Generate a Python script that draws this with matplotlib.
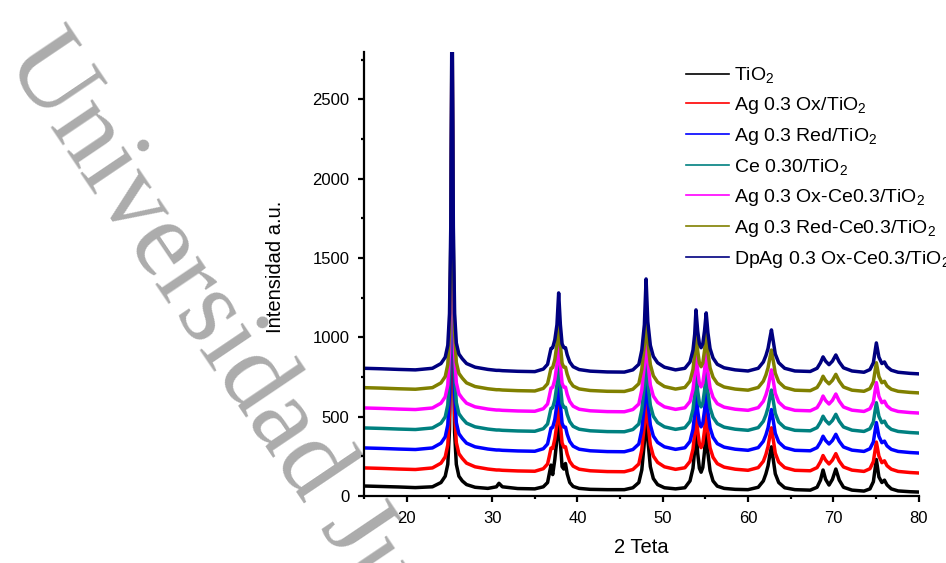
import matplotlib
matplotlib.use("Agg")
import matplotlib.pyplot as plt
from matplotlib.ticker import MultipleLocator

plt.rcParams["font.family"] = ["Liberation Sans", "DejaVu Sans"]
plt.rcParams["mathtext.fontset"] = "custom"
plt.rcParams["mathtext.rm"] = "Liberation Sans"
plt.rcParams["mathtext.it"] = "Liberation Sans:italic"
plt.rcParams["mathtext.bf"] = "Liberation Sans:bold"

# 2-theta sampling positions (degrees)
two_theta = [
    15.0, 17.0, 19.0, 21.0, 23.0, 24.0, 24.5, 24.8, 25.0, 25.15,
    25.3, 25.45, 25.6, 25.8, 26.1, 26.5, 27.0, 28.0, 29.5, 30.5,
    30.8, 31.2, 33.0, 35.0, 36.0, 36.5, 36.7, 36.9, 37.1, 37.35,
    37.6, 37.8, 38.0, 38.2, 38.4, 38.6, 38.8, 39.1, 39.5, 40.2,
    41.5, 43.5, 45.5, 46.5, 47.2, 47.55, 47.85, 48.05, 48.25, 48.55,
    48.9, 49.4, 50.2, 51.5, 52.6, 53.2, 53.55, 53.75, 53.9, 54.1,
    54.3, 54.5, 54.7, 54.9, 55.1, 55.3, 55.55, 55.9, 56.4, 57.2,
    58.5, 60.0, 61.2, 61.8, 62.1, 62.35, 62.55, 62.75, 62.95, 63.2,
    63.6, 64.3, 65.5, 67.3, 68.1, 68.5, 68.8, 69.1, 69.5, 69.9,
    70.3, 70.7, 71.2, 72.2, 73.6, 74.3, 74.7, 75.05, 75.35, 75.7,
    76.0, 76.3, 76.8, 77.6, 79.0, 80.0,
]

# Intensity (a.u., stacked) for each sample
tio2 = [
    63, 60, 57, 53, 58, 85, 125, 200, 420, 1000,
    2650, 1000, 400, 200, 125, 95, 72, 55, 48, 58,
    80, 58, 47, 45, 58, 85, 140, 195, 135, 230,
    360, 570, 340, 185, 170, 205, 140, 85, 60, 48,
    42, 40, 40, 52, 85, 165, 340, 620, 360, 185,
    110, 72, 52, 45, 52, 95, 175, 290, 440, 270,
    175, 150, 180, 280, 420, 270, 160, 95, 62, 48,
    42, 40, 55, 95, 140, 190, 255, 310, 235, 140,
    85, 52, 40, 37, 55, 100, 164, 105, 69, 105,
    170, 100, 55, 37, 31, 45, 90, 230, 120, 85,
    100, 70, 45, 32, 27, 25,
]
ag_ox = [
    177, 174, 170, 167, 177, 207, 247, 322, 522, 1072,
    2700, 1072, 522, 337, 267, 237, 207, 184, 170, 164,
    164, 162, 158, 156, 172, 202, 250, 302, 300, 360,
    455, 650, 455, 335, 308, 310, 264, 218, 188, 169,
    159, 154, 153, 167, 202, 292, 452, 735, 472, 322,
    252, 212, 184, 168, 178, 218, 295, 395, 545, 412,
    330, 305, 330, 412, 530, 404, 304, 244, 204, 182,
    169, 162, 179, 219, 262, 312, 375, 430, 360, 270,
    214, 179, 162, 159, 179, 216, 255, 226, 202, 226,
    267, 220, 183, 163, 155, 172, 217, 340, 252, 210,
    222, 191, 169, 155, 148, 145,
]
ag_red = [
    303, 300, 296, 293, 303, 333, 373, 448, 648, 1198,
    2800, 1198, 648, 463, 393, 363, 333, 310, 296, 290,
    290, 288, 284, 282, 298, 328, 377, 428, 433, 483,
    578, 775, 578, 460, 434, 434, 389, 344, 314, 295,
    285, 280, 279, 293, 328, 418, 576, 860, 598, 448,
    378, 338, 310, 294, 304, 344, 420, 518, 665, 538,
    459, 436, 459, 538, 655, 530, 430, 370, 330, 308,
    295, 288, 305, 345, 385, 430, 490, 545, 480, 395,
    340, 305, 288, 285, 305, 340, 377, 350, 328, 350,
    389, 345, 309, 289, 281, 298, 341, 463, 376, 336,
    346, 316, 294, 281, 274, 271,
]
ce = [
    429, 426, 422, 419, 429, 459, 499, 574, 774, 1324,
    2900, 1324, 774, 589, 519, 489, 459, 436, 422, 416,
    416, 414, 410, 408, 424, 454, 502, 552, 557, 607,
    700, 890, 700, 585, 559, 559, 514, 469, 439, 421,
    411, 406, 405, 419, 454, 544, 700, 975, 720, 572,
    503, 463, 436, 420, 430, 470, 545, 642, 785, 662,
    585, 562, 585, 662, 775, 655, 556, 496, 456, 434,
    421, 414, 431, 471, 511, 556, 615, 668, 605, 521,
    466, 431, 414, 411, 431, 466, 503, 476, 454, 476,
    515, 471, 435, 415, 407, 424, 467, 588, 502, 462,
    472, 442, 420, 407, 400, 397,
]
ag_ox_ce = [
    555, 552, 548, 545, 555, 585, 625, 700, 900, 1450,
    3000, 1450, 900, 715, 645, 615, 585, 562, 548, 542,
    542, 540, 536, 534, 550, 580, 628, 680, 685, 735,
    830, 1020, 830, 712, 686, 686, 641, 596, 566, 547,
    537, 532, 531, 545, 580, 670, 830, 1110, 850, 700,
    630, 590, 562, 546, 556, 596, 671, 770, 915, 790,
    711, 688, 711, 790, 905, 782, 682, 622, 582, 560,
    547, 540, 557, 597, 637, 682, 742, 795, 732, 647,
    592, 557, 540, 537, 557, 592, 630, 602, 580, 603,
    643, 598, 561, 541, 533, 550, 593, 715, 628, 588,
    598, 568, 546, 533, 526, 523,
]
ag_red_ce = [
    683, 680, 676, 673, 683, 713, 753, 828, 1028, 1578,
    3100, 1578, 1028, 843, 773, 743, 713, 690, 676, 670,
    670, 668, 664, 662, 678, 708, 755, 805, 810, 860,
    955, 1150, 955, 838, 812, 812, 768, 723, 693, 675,
    665, 660, 659, 673, 708, 798, 955, 1235, 975, 828,
    758, 718, 690, 674, 684, 724, 798, 895, 1045, 915,
    838, 815, 838, 915, 1030, 905, 808, 749, 709, 687,
    674, 667, 684, 724, 763, 808, 866, 920, 856, 774,
    719, 684, 667, 664, 684, 718, 755, 728, 707, 729,
    767, 724, 687, 667, 660, 677, 720, 840, 753, 714,
    723, 694, 673, 660, 653, 650,
]
dpag_ox_ce = [
    805, 802, 798, 795, 805, 835, 875, 950, 1150, 1700,
    3200, 1700, 1150, 965, 895, 865, 835, 812, 798, 792,
    792, 790, 786, 784, 800, 830, 880, 930, 935, 985,
    1080, 1280, 1080, 960, 935, 935, 890, 845, 815, 797,
    787, 782, 781, 795, 830, 920, 1080, 1368, 1100, 950,
    880, 840, 812, 795, 805, 845, 920, 1020, 1173, 1040,
    960, 935, 960, 1040, 1154, 1030, 930, 870, 830, 808,
    795, 788, 805, 845, 885, 930, 990, 1047, 980, 895,
    840, 805, 788, 785, 805, 840, 877, 850, 828, 850,
    889, 845, 808, 788, 780, 797, 840, 965, 875, 835,
    845, 815, 793, 780, 773, 770,
]

series = [tio2, ag_ox, ag_red, ce, ag_ox_ce, ag_red_ce, dpag_ox_ce]
labels = [
    "TiO$_2$",
    "Ag 0.3 Ox/TiO$_2$",
    "Ag 0.3 Red/TiO$_2$",
    "Ce 0.30/TiO$_2$",
    "Ag 0.3 Ox-Ce0.3/TiO$_2$",
    "Ag 0.3 Red-Ce0.3/TiO$_2$",
    "DpAg 0.3 Ox-Ce0.3/TiO$_2$",
]
colors = ["#000000", "#ff0000", "#0000ff", "#008080", "#ff00ff", "#808000", "#000080"]

fig = plt.figure(figsize=(9.46, 5.63), dpi=100)
ax = fig.add_axes([0.385, 0.119, 0.586, 0.789])

for y, lab, c in zip(series, labels, colors):
    ax.plot(two_theta, y, color=c, lw=2.5, label=lab, solid_joinstyle="round")

ax.set_xlim(15, 80)
ax.set_ylim(0, 2800)
ax.xaxis.set_major_locator(MultipleLocator(10))
ax.xaxis.set_minor_locator(MultipleLocator(5))
ax.yaxis.set_major_locator(MultipleLocator(500))
ax.yaxis.set_minor_locator(MultipleLocator(250))

for side in ("top", "right"):
    ax.spines[side].set_visible(False)
for side in ("left", "bottom"):
    ax.spines[side].set_linewidth(1.6)

ax.tick_params(which="major", direction="out", length=4.5, width=1.6,
               labelsize=12, pad=6)
ax.tick_params(which="minor", direction="out", length=2.5, width=1.6)

ax.set_xlabel("2 Teta", fontsize=14.5)
ax.set_ylabel("Intensidad a.u.", fontsize=14.5)
ax.xaxis.set_label_coords(0.5, -0.095)
ax.yaxis.set_label_coords(-0.142, 0.515)

leg = ax.legend(loc="upper left", bbox_to_anchor=(0.725, 0.884),
                bbox_transform=fig.transFigure, frameon=False, fontsize=14,
                handlelength=2.2, handletextpad=0.3, labelspacing=0.51,
                borderpad=0, borderaxespad=0)
for line in leg.get_lines():
    line.set_linewidth(1.2)

# Repository watermark
fig.text(0.004, 0.895, "Universidad Juárez", rotation=-56,
         rotation_mode="anchor", ha="left", va="baseline",
         fontsize=79, family="Liberation Serif", color="black",
         alpha=0.33, zorder=10)

fig.savefig("out.png", dpi=100)
